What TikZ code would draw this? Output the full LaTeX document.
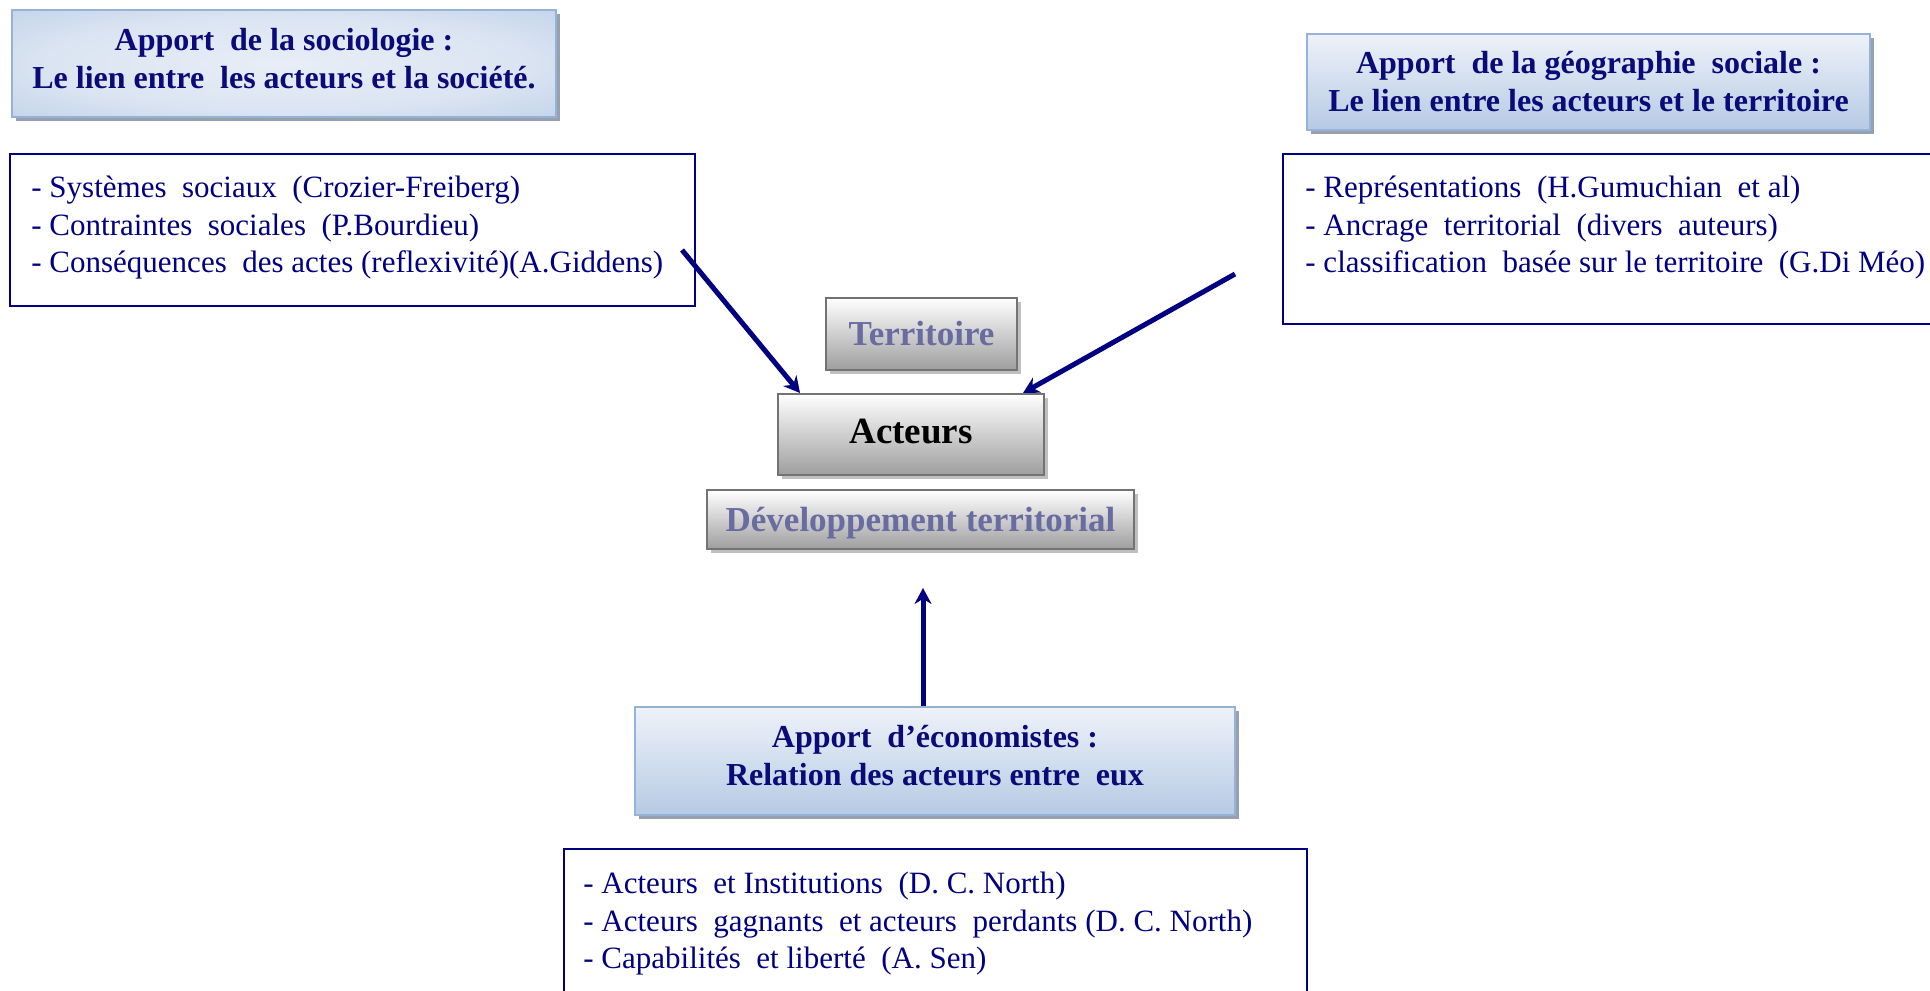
\documentclass[tikz,border=0pt]{standalone}
\usepackage{fontspec}
\setmainfont{Liberation Serif}
\usetikzlibrary{arrows.meta, shadows, positioning}
\definecolor{marine}{RGB}{0,0,128}
\definecolor{titreBleu}{RGB}{10,10,120}
\definecolor{bordBleu}{RGB}{149,179,215}
\definecolor{hautBleu}{RGB}{238,242,249}
\definecolor{basBleu}{RGB}{182,202,228}
\definecolor{ombre}{RGB}{150,160,175}
\definecolor{ardoise}{RGB}{104,108,160}
\pgfdeclareradialshading{titreRadial}{\pgfpoint{0bp}{0bp}}{color(0bp)=(hautBleu!90!basBleu); color(22bp)=(hautBleu!65!basBleu); color(50bp)=(basBleu!75!bordBleu)}
\newcommand{\flecheArrow}{{Stealth[length=8pt, width=8.5pt]}}

\begin{document}
\begin{tikzpicture}[x=0.5pt, y=-0.5pt,
	titre/.style={draw=bordBleu, line width=0.75pt, inner sep=0pt,
		top color=hautBleu, bottom color=basBleu,
		drop shadow={shadow xshift=2pt, shadow yshift=-2pt, fill=ombre, opacity=1}},
	titreTexte/.style={align=center, text=titreBleu, inner sep=0pt,
		font=\fontsize{16}{19}\selectfont\bfseries},
	liste/.style={draw=marine, line width=0.75pt, inner sep=0pt},
	puce/.style={align=left, text=marine, anchor=north west, inner sep=0pt,
		font=\fontsize{15.5}{18.75}\selectfont},
	boite/.style={draw=black!55, line width=1pt, align=center, inner sep=0pt,
		top color=white, bottom color=black!38,
		drop shadow={shadow xshift=2pt, shadow yshift=-2pt, fill=black!25, opacity=1}},
	fleche/.style={draw=marine, line width=2.5pt, -\flecheArrow}]
	\useasboundingbox (0,0) rectangle (1930,990);

	% apports : titres
	\node[titre, minimum width=272pt, minimum height=53.5pt, shading=titreRadial] (socTitre) at (284,63.5) {};
	\node[titreTexte] (socTitreTexte) at ([yshift=2.5pt]socTitre.center)
		{Apport\ \ de la sociologie :\\Le lien entre\ \ les acteurs et la société.};
	\node[titre, minimum width=281.5pt, minimum height=48pt] (geoTitre) at (1588.5,82) {};
	\node[titreTexte] (geoTitreTexte) at (geoTitre.center)
		{Apport\ \ de la géographie\ \ sociale :\\Le lien entre les acteurs et le territoire};
	\node[titre, minimum width=300pt, minimum height=54pt] (ecoTitre) at (935,761) {};
	\node[titreTexte] (ecoTitreTexte) at ([yshift=2.5pt]ecoTitre.center)
		{Apport\ \ d’économistes :\\Relation des acteurs entre\ \ eux};

	% listes
	\node[liste, minimum width=342.5pt, minimum height=76pt] (socListe) at (352.5,230) {};
	\node[puce] (socTexte) at (31,176)
		{- Systèmes\ \ sociaux\ \ (Crozier-Freiberg)\\- Contraintes\ \ sociales\ \ (P.Bourdieu)\\- Conséquences\ \ des actes (reflexivité)(A.Giddens)};
	\node[liste, minimum width=330pt, minimum height=85pt] (geoListe) at (1613,239) {};
	\node[puce] (geoTexte) at (1305,176)
		{- Représentations\ \ (H.Gumuchian\ \ et al)\\- Ancrage\ \ territorial\ \ (divers\ \ auteurs)\\- classification\ \ basée sur le territoire\ \ (G.Di Méo)};
	\node[liste, minimum width=371.5pt, minimum height=80pt] (ecoListe) at (935.5,929) {};
	\node[puce] (ecoTexte) at (583,872)
		{- Acteurs\ \ et Institutions\ \ (D. C. North)\\- Acteurs\ \ gagnants\ \ et acteurs\ \ perdants (D. C. North)\\- Capabilités\ \ et liberté\ \ (A. Sen)};

	% centre
	\node[boite, minimum width=95.5pt, minimum height=36pt, text=ardoise,
		font=\fontsize{17.5}{20}\selectfont\bfseries] (territoire) at (921.5,334) {Territoire};
	\node[boite, minimum width=133pt, minimum height=40.5pt, text depth=3pt,
		font=\fontsize{18.5}{22}\selectfont\bfseries] (acteurs) at (911,434.5) {Acteurs};
	\node[boite, minimum width=213.5pt, minimum height=29.5pt, text=ardoise, text depth=0pt,
		font=\fontsize{17.5}{20}\selectfont\bfseries] (devTerr) at (920.5,519.5) {Développement territorial};

	% fleches
	\coordinate (depSoc) at (682,250);
	\coordinate (depGeo) at (1235,274);
	\coordinate (finEco) at (923,588);
	\draw[fleche] (depSoc) -- ([xshift=11.5pt]acteurs.north west);
	\draw[fleche] (depGeo) -- ([xshift=-11pt]acteurs.north east);
	\draw[fleche] (ecoTitre.north -| finEco) -- (finEco);
\end{tikzpicture}
\end{document}
